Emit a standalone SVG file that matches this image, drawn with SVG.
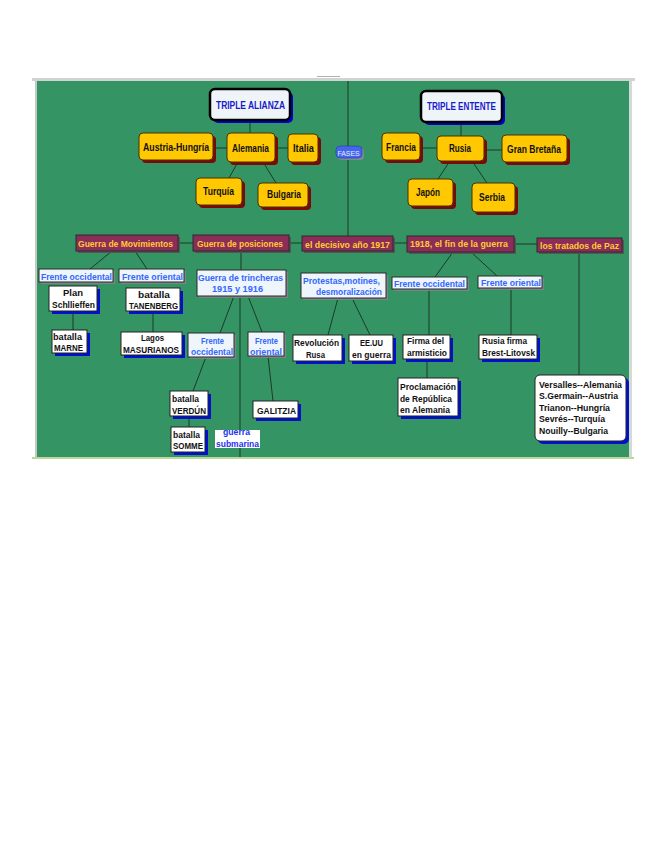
<svg xmlns="http://www.w3.org/2000/svg" width="655" height="848" viewBox="0 0 655 848">
<style>
text{font-family:"Liberation Sans",Arial,sans-serif;font-weight:bold;font-size:9.5px}
.big{font-size:10.5px}
.y{fill:#ffc800;stroke:#4a3000;stroke-width:1}
.ys{fill:#7a0a0a}
.p{fill:#8c2c58;stroke:#2a2a2a;stroke-width:1}
.ps{fill:#555}
.l{fill:#eef5fb;stroke:#2a2a2a;stroke-width:1}
.ls{fill:#7a8585}
.w{fill:#fff;stroke:#222;stroke-width:1}
.ws{fill:#0010d0}
.tk{fill:#111}
.ty{fill:#ffcc33}
.tb{fill:#3366ff}
.tt{fill:#1a1acc}
.ts{fill:#2233ee}
#connectors line{stroke:#1d3a28;stroke-width:1}
</style>
<rect width="655" height="848" fill="#fff"/>
<!-- frame -->
<rect x="32" y="78" width="603" height="3" fill="#d2d2d2"/>
<rect x="37" y="81" width="592" height="376" fill="#349463"/>
<rect x="35" y="81" width="2" height="376" fill="#c4c8c4"/>
<rect x="629" y="81" width="3" height="376" fill="#d4dad8"/>
<rect x="32" y="457" width="602" height="2" fill="#bcd896"/>
<line x1="317" y1="76.5" x2="340" y2="76.5" stroke="#b0b0b0" stroke-width="1"/>

<g id="connectors">
<line x1="250" y1="120" x2="250" y2="133"/>
<line x1="213" y1="148" x2="227" y2="148"/>
<line x1="275" y1="148" x2="288" y2="148"/>
<line x1="238" y1="162" x2="229" y2="178"/>
<line x1="263" y1="162" x2="276" y2="183"/>
<line x1="461" y1="122" x2="461" y2="136"/>
<line x1="420" y1="148" x2="437" y2="148"/>
<line x1="484" y1="150" x2="502" y2="150"/>
<line x1="450" y1="161" x2="438" y2="179"/>
<line x1="472" y1="161" x2="487" y2="183"/>
<line x1="348" y1="81" x2="348" y2="236"/>
<line x1="178" y1="243" x2="193" y2="243"/>
<line x1="289" y1="243" x2="302" y2="243"/>
<line x1="393" y1="243" x2="407" y2="243"/>
<line x1="514" y1="244" x2="537" y2="244"/>
<line x1="112" y1="251" x2="90" y2="269"/>
<line x1="135" y1="251" x2="147" y2="269"/>
<line x1="73" y1="311" x2="73" y2="330"/>
<line x1="153" y1="311" x2="153" y2="332"/>
<line x1="241" y1="251" x2="241" y2="270"/>
<line x1="234" y1="296" x2="220" y2="333"/>
<line x1="240" y1="296" x2="240" y2="457"/>
<line x1="248" y1="296" x2="262" y2="332"/>
<line x1="206" y1="357" x2="193" y2="391"/>
<line x1="268" y1="356" x2="273" y2="401"/>
<line x1="189" y1="416" x2="189" y2="427"/>
<line x1="338" y1="298" x2="328" y2="335"/>
<line x1="352" y1="298" x2="370" y2="335"/>
<line x1="453" y1="252" x2="435" y2="277"/>
<line x1="471" y1="252" x2="497" y2="276"/>
<line x1="429" y1="289" x2="429" y2="335"/>
<line x1="511" y1="288" x2="511" y2="335"/>
<line x1="579" y1="252" x2="579" y2="375"/>
<line x1="427" y1="359" x2="427" y2="378"/>
</g>

<!-- top alliances -->
<g id="triple-alianza"><rect x="213" y="92" width="80" height="31" rx="5" fill="#0000cc"/><rect x="210" y="89" width="80" height="31" rx="5" fill="#eef4f8" stroke="#000" stroke-width="2.5"/><text class="tt big" x="216" y="109" textLength="69" lengthAdjust="spacingAndGlyphs">TRIPLE ALIANZA</text></g>
<g id="triple-entente"><rect x="424" y="94" width="81" height="31" rx="5" fill="#0000cc"/><rect x="421" y="91" width="81" height="31" rx="5" fill="#eef4f8" stroke="#000" stroke-width="2.5"/><text class="tt big" x="427" y="110" textLength="69" lengthAdjust="spacingAndGlyphs">TRIPLE ENTENTE</text></g>

<g id="austria-hungria"><rect class="ys" x="142" y="136" width="74" height="27" rx="4"/><rect class="y" x="139" y="133" width="74" height="27" rx="4"/><text class="tk big" x="143" y="151" textLength="66" lengthAdjust="spacingAndGlyphs">Austria-Hungría</text></g>
<g id="alemania"><rect class="ys" x="230" y="136" width="48" height="29" rx="4"/><rect class="y" x="227" y="133" width="48" height="29" rx="4"/><text class="tk big" x="232" y="152" textLength="37" lengthAdjust="spacingAndGlyphs">Alemania</text></g>
<g id="italia"><rect class="ys" x="291" y="137" width="30" height="28" rx="4"/><rect class="y" x="288" y="134" width="30" height="28" rx="4"/><text class="tk big" x="293" y="152" textLength="21" lengthAdjust="spacingAndGlyphs">Italia</text></g>
<g id="turquia"><rect class="ys" x="199" y="181" width="46" height="27" rx="4"/><rect class="y" x="196" y="178" width="46" height="27" rx="4"/><text class="tk big" x="203" y="195" textLength="31" lengthAdjust="spacingAndGlyphs">Turquía</text></g>
<g id="bulgaria"><rect class="ys" x="261" y="186" width="50" height="24" rx="4"/><rect class="y" x="258" y="183" width="50" height="24" rx="4"/><text class="tk big" x="267" y="198" textLength="34" lengthAdjust="spacingAndGlyphs">Bulgaria</text></g>
<g id="francia"><rect class="ys" x="385" y="136" width="38" height="27" rx="4"/><rect class="y" x="382" y="133" width="38" height="27" rx="4"/><text class="tk big" x="386" y="151" textLength="30" lengthAdjust="spacingAndGlyphs">Francia</text></g>
<g id="rusia"><rect class="ys" x="440" y="139" width="47" height="25" rx="4"/><rect class="y" x="437" y="136" width="47" height="25" rx="4"/><text class="tk big" x="449" y="152" textLength="22" lengthAdjust="spacingAndGlyphs">Rusia</text></g>
<g id="gran-bretana"><rect class="ys" x="505" y="138" width="65" height="27" rx="4"/><rect class="y" x="502" y="135" width="65" height="27" rx="4"/><text class="tk big" x="507" y="153" textLength="54" lengthAdjust="spacingAndGlyphs">Gran Bretaña</text></g>
<g id="japon"><rect class="ys" x="411" y="182" width="45" height="27" rx="4"/><rect class="y" x="408" y="179" width="45" height="27" rx="4"/><text class="tk big" x="416" y="196" textLength="24" lengthAdjust="spacingAndGlyphs">Japón</text></g>
<g id="serbia"><rect class="ys" x="475" y="186" width="43" height="29" rx="4"/><rect class="y" x="472" y="183" width="43" height="29" rx="4"/><text class="tk big" x="479" y="201" textLength="26" lengthAdjust="spacingAndGlyphs">Serbia</text></g>

<g id="fases"><rect x="338" y="148" width="26" height="12" rx="4" fill="#7a8a9a"/><rect x="336" y="146" width="26" height="12" rx="4" fill="#4466ee" stroke="#2a3a9a" stroke-width="0.6"/><text x="337.5" y="155.5" style="font-size:7px;font-weight:normal" fill="#e8eeff" textLength="22" lengthAdjust="spacingAndGlyphs">FASES</text></g>

<!-- phases -->
<g id="guerra-movimientos"><rect class="ps" x="78" y="237" width="102" height="16"/><rect class="p" x="76" y="235" width="102" height="16"/><text class="ty" x="78" y="247" textLength="95" lengthAdjust="spacingAndGlyphs">Guerra de Movimientos</text></g>
<g id="guerra-posiciones"><rect class="ps" x="195" y="237" width="96" height="16"/><rect class="p" x="193" y="235" width="96" height="16"/><text class="ty" x="197" y="247" textLength="86" lengthAdjust="spacingAndGlyphs">Guerra de posiciones</text></g>
<g id="decisivo-1917"><rect class="ps" x="304" y="238" width="91" height="15"/><rect class="p" x="302" y="236" width="91" height="15"/><text class="ty" x="305" y="248" textLength="85" lengthAdjust="spacingAndGlyphs">el decisivo año 1917</text></g>
<g id="fin-guerra"><rect class="ps" x="409" y="238" width="107" height="16"/><rect class="p" x="407" y="236" width="107" height="16"/><text class="ty" x="410" y="247" textLength="98" lengthAdjust="spacingAndGlyphs">1918, el fin de la guerra</text></g>
<g id="tratados-paz"><rect class="ps" x="539" y="240" width="85" height="14"/><rect class="p" x="537" y="238" width="85" height="14"/><text class="ty" x="540" y="249" textLength="79" lengthAdjust="spacingAndGlyphs">los tratados de Paz</text></g>

<!-- light boxes -->
<g id="frente-occ-1"><rect class="ls" x="41" y="271" width="74" height="13"/><rect class="l" x="39" y="269" width="74" height="13"/><text class="tb" x="41" y="279.5" textLength="71" lengthAdjust="spacingAndGlyphs">Frente occidental</text></g>
<g id="frente-or-1"><rect class="ls" x="121" y="271" width="65" height="13"/><rect class="l" x="119" y="269" width="65" height="13"/><text class="tb" x="122" y="279.5" textLength="61" lengthAdjust="spacingAndGlyphs">Frente oriental</text></g>
<g id="trincheras"><rect class="ls" x="199" y="272" width="89" height="26"/><rect class="l" x="197" y="270" width="89" height="26"/><text class="tb" x="198" y="281" textLength="85" lengthAdjust="spacingAndGlyphs">Guerra de trincheras</text><text class="tb" x="212" y="292" textLength="51" lengthAdjust="spacingAndGlyphs">1915 y 1916</text></g>
<g id="protestas"><rect class="ls" x="303" y="275" width="85" height="25"/><rect class="l" x="301" y="273" width="85" height="25"/><text class="tb" x="303" y="284" textLength="77" lengthAdjust="spacingAndGlyphs">Protestas,motines,</text><text class="tb" x="316" y="295" textLength="66" lengthAdjust="spacingAndGlyphs">desmoralización</text></g>
<g id="frente-occ-2"><rect class="ls" x="190" y="335" width="46" height="24"/><rect class="l" x="188" y="333" width="46" height="24"/><text class="tb" x="201" y="343.5" textLength="23" lengthAdjust="spacingAndGlyphs">Frente</text><text class="tb" x="191" y="354.5" textLength="42" lengthAdjust="spacingAndGlyphs">occidental</text></g>
<g id="frente-or-2"><rect class="ls" x="250" y="334" width="36" height="24"/><rect class="l" x="248" y="332" width="36" height="24"/><text class="tb" x="255" y="343.5" textLength="23" lengthAdjust="spacingAndGlyphs">Frente</text><text class="tb" x="250" y="354.5" textLength="32" lengthAdjust="spacingAndGlyphs">oriental</text></g>
<g id="frente-occ-3"><rect class="ls" x="394" y="279" width="75" height="12"/><rect class="l" x="392" y="277" width="75" height="12"/><text class="tb" x="394" y="286.5" textLength="71" lengthAdjust="spacingAndGlyphs">Frente occidental</text></g>
<g id="frente-or-3"><rect class="ls" x="480" y="278" width="64" height="12"/><rect class="l" x="478" y="276" width="64" height="12"/><text class="tb" x="481" y="285.5" textLength="60" lengthAdjust="spacingAndGlyphs">Frente oriental</text></g>

<!-- white boxes -->
<g id="plan-schlieffen"><rect class="ws" x="52" y="289" width="48" height="25"/><rect class="w" x="49" y="286" width="48" height="25"/><text class="tk" x="63" y="296" textLength="20" lengthAdjust="spacingAndGlyphs">Plan</text><text class="tk" x="52" y="308" textLength="43" lengthAdjust="spacingAndGlyphs">Schllieffen</text></g>
<g id="tanenberg"><rect class="ws" x="129" y="291" width="54" height="23"/><rect class="w" x="126" y="288" width="54" height="23"/><text class="tk" x="138" y="297.5" textLength="32" lengthAdjust="spacingAndGlyphs">batalla</text><text class="tk" x="129" y="309" textLength="49" lengthAdjust="spacingAndGlyphs">TANENBERG</text></g>
<g id="marne"><rect class="ws" x="55" y="333" width="35" height="23"/><rect class="w" x="52" y="330" width="35" height="23"/><text class="tk" x="53" y="339.5" textLength="29" lengthAdjust="spacingAndGlyphs">batalla</text><text class="tk" x="54" y="351" textLength="29" lengthAdjust="spacingAndGlyphs">MARNE</text></g>
<g id="masurianos"><rect class="ws" x="124" y="335" width="61" height="23"/><rect class="w" x="121" y="332" width="61" height="23"/><text class="tk" x="141" y="341" textLength="23" lengthAdjust="spacingAndGlyphs">Lagos</text><text class="tk" x="123" y="352.5" textLength="56" lengthAdjust="spacingAndGlyphs">MASURIANOS</text></g>
<g id="verdun"><rect class="ws" x="173" y="394" width="38" height="25"/><rect class="w" x="170" y="391" width="38" height="25"/><text class="tk" x="172" y="401.5" textLength="27" lengthAdjust="spacingAndGlyphs">batalla</text><text class="tk" x="172" y="413.5" textLength="34" lengthAdjust="spacingAndGlyphs">VERDÚN</text></g>
<g id="somme"><rect class="ws" x="174" y="430" width="34" height="25"/><rect class="w" x="171" y="427" width="34" height="25"/><text class="tk" x="173" y="437.5" textLength="27" lengthAdjust="spacingAndGlyphs">batalla</text><text class="tk" x="173" y="449" textLength="30" lengthAdjust="spacingAndGlyphs">SOMME</text></g>
<g id="submarina"><rect x="215" y="430" width="45" height="18" fill="#fff"/><text class="ts" x="223" y="434.5" textLength="27" lengthAdjust="spacingAndGlyphs">guerra</text><text class="ts" x="216" y="446.5" textLength="43" lengthAdjust="spacingAndGlyphs">submarina</text></g>
<g id="galitzia"><rect class="ws" x="256" y="404" width="45" height="17"/><rect class="w" x="253" y="401" width="45" height="17"/><text class="tk" x="257" y="413.5" textLength="39" lengthAdjust="spacingAndGlyphs">GALITZIA</text></g>
<g id="revolucion"><rect class="ws" x="296" y="338" width="49" height="26"/><rect class="w" x="293" y="335" width="49" height="26"/><text class="tk" x="294" y="346" textLength="45" lengthAdjust="spacingAndGlyphs">Revolución</text><text class="tk" x="306" y="357.5" textLength="19" lengthAdjust="spacingAndGlyphs">Rusa</text></g>
<g id="eeuu"><rect class="ws" x="352" y="338" width="44" height="26"/><rect class="w" x="349" y="335" width="44" height="26"/><text class="tk" x="360" y="346" textLength="23" lengthAdjust="spacingAndGlyphs">EE.UU</text><text class="tk" x="352" y="357.5" textLength="39" lengthAdjust="spacingAndGlyphs">en guerra</text></g>
<g id="armisticio"><rect class="ws" x="406" y="338" width="47" height="24"/><rect class="w" x="403" y="335" width="47" height="24"/><text class="tk" x="407" y="344" textLength="37" lengthAdjust="spacingAndGlyphs">Firma del</text><text class="tk" x="407" y="356" textLength="40" lengthAdjust="spacingAndGlyphs">armisticio</text></g>
<g id="brest-litovsk"><rect class="ws" x="482" y="338" width="58" height="24"/><rect class="w" x="479" y="335" width="58" height="24"/><text class="tk" x="482" y="344" textLength="45" lengthAdjust="spacingAndGlyphs">Rusia firma</text><text class="tk" x="482" y="356" textLength="53" lengthAdjust="spacingAndGlyphs">Brest-Litovsk</text></g>
<g id="proclamacion"><rect class="ws" x="401" y="381" width="60" height="38"/><rect class="w" x="398" y="378" width="60" height="38"/><text class="tk" x="400" y="390" textLength="56" lengthAdjust="spacingAndGlyphs">Proclamación</text><text class="tk" x="400" y="401.5" textLength="52" lengthAdjust="spacingAndGlyphs">de República</text><text class="tk" x="400" y="413" textLength="50" lengthAdjust="spacingAndGlyphs">en Alemania</text></g>
<g id="tratados"><rect class="ws" x="538" y="378" width="91" height="66" rx="5"/><rect class="w" x="535" y="375" width="91" height="66" rx="5"/><text class="tk" x="539" y="387.5" textLength="83" lengthAdjust="spacingAndGlyphs">Versalles--Alemania</text><text class="tk" x="539" y="399" textLength="79" lengthAdjust="spacingAndGlyphs">S.Germain--Austria</text><text class="tk" x="539" y="410.5" textLength="71" lengthAdjust="spacingAndGlyphs">Trianon--Hungría</text><text class="tk" x="539" y="422" textLength="66" lengthAdjust="spacingAndGlyphs">Sevrés--Turquía</text><text class="tk" x="539" y="433.5" textLength="69" lengthAdjust="spacingAndGlyphs">Nouilly--Bulgaria</text></g>
</svg>
